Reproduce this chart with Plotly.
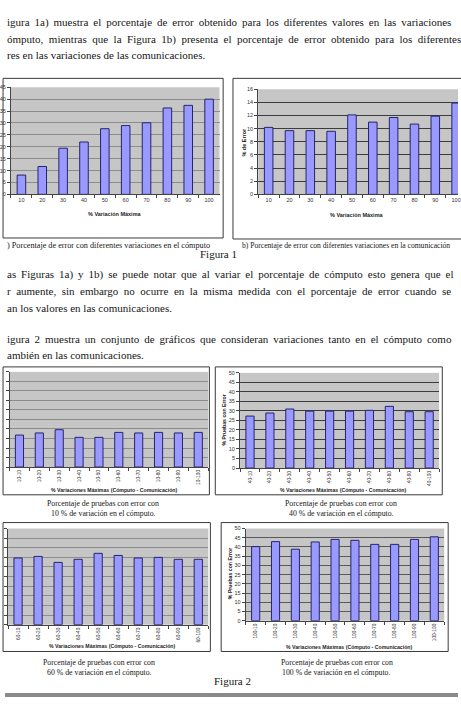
import plotly.graph_objects as go

W, H = 461, 710

# ---------------- data ----------------
variacion = ['10', '20', '30', '40', '50', '60', '70', '80', '90', '100']
error_computo = [8.1, 11.7, 19.4, 22.0, 27.6, 28.9, 30.1, 36.3, 37.4, 40.0]
error_comunicacion = [10.2, 9.7, 9.7, 9.6, 12.1, 11.0, 11.7, 10.7, 11.9, 13.9]

comunicacion = ['10', '20', '30', '40', '50', '60', '70', '80', '90', '100']
labels_10 = ['10-' + c for c in comunicacion]
labels_40 = ['40-' + c for c in comunicacion]
labels_60 = ['60-' + c for c in comunicacion]
labels_100 = ['100-' + c for c in comunicacion]
pruebas_10 = [16.8, 17.9, 19.6, 15.6, 15.6, 18.2, 17.9, 18.2, 17.9, 18.2]
pruebas_40 = [27.3, 28.9, 31.0, 29.9, 29.9, 29.9, 30.3, 32.4, 29.6, 29.6]
pruebas_60 = [34.7, 35.5, 32.4, 34.0, 37.1, 36.0, 34.7, 35.0, 34.0, 34.0]
pruebas_100 = [40.2, 42.9, 38.8, 42.7, 44.1, 43.6, 41.4, 41.4, 44.1, 45.5]


def px(x):
    return x / W


def py(y):
    return 1 - y / H


SANS = 'Liberation Sans, Arial, sans-serif'
SERIF = 'Liberation Serif, Times New Roman, serif'
BAR = '#9999FF'
BAR_LINE = '#25256b'

panels = [
    dict(x=variacion, y=error_computo, box=(6.1, 218.3, 85, 193), xr=[-0.5, 9.5], yr=[0, 45], dt=5,
         grid='#8c8c8c', angle=0, tfs=5.5, ylab=True),
    dict(x=variacion, y=error_comunicacion, box=(257.7, 461, 87, 193), xr=[-0.5, 9.09], yr=[0, 16], dt=2,
         grid='#3c3c3c', angle=0, tfs=5.5, ylab=True),
    dict(x=labels_10, y=pruebas_10, box=(4.6, 206.8, 372, 468), xr=[-0.5, 9.5], yr=[0, 50], dt=5,
         grid='#8c8c8c', angle=-90, tfs=4.8, ylab=False),
    dict(x=labels_40, y=pruebas_40, box=(239.2, 441.8, 373, 469), xr=[-0.5, 9.5], yr=[0, 50], dt=5,
         grid='#3c3c3c', angle=-90, tfs=4.8, ylab=True),
    dict(x=labels_60, y=pruebas_60, box=(3.1, 206.9, 530, 627), xr=[-0.5, 9.5], yr=[0, 50], dt=5,
         grid='#8c8c8c', angle=-90, tfs=4.8, ylab=False),
    dict(x=labels_100, y=pruebas_100, box=(245, 447, 530, 623), xr=[-0.5, 9.5], yr=[0, 50], dt=5,
         grid='#5a5a5a', angle=-90, tfs=4.8, ylab=True),
]

fig = go.Figure()
layout = {}
for i, p in enumerate(panels, start=1):
    sfx = '' if i == 1 else str(i)
    fig.add_trace(go.Bar(
        x=p['x'], y=p['y'], xaxis='x' + sfx, yaxis='y' + sfx, width=0.41,
        marker=dict(color=BAR, line=dict(color=BAR_LINE, width=1)), showlegend=False,
        hoverinfo='x+y'))
    x0, x1, y0, y1 = p['box']
    layout['xaxis' + sfx] = dict(
        domain=[px(x0), px(x1)], anchor='y' + sfx, type='category', range=p['xr'],
        showline=True, linecolor='#444', linewidth=1, ticks='outside', tickson='boundaries',
        ticklen=3, tickcolor='#444', tickangle=p['angle'], showgrid=False,
        tickfont=dict(family=SANS, size=p['tfs'], color='#333'), fixedrange=True)
    layout['yaxis' + sfx] = dict(
        domain=[py(y1), py(y0)], anchor='x' + sfx, range=p['yr'], dtick=p['dt'],
        showgrid=True, gridcolor=p['grid'], gridwidth=1, zeroline=False,
        showline=True, linecolor='#444', linewidth=1, ticks='outside', ticklen=3,
        showticklabels=p['ylab'],
        tickcolor='#444', tickfont=dict(family=SANS, size=5.5, color='#333'), fixedrange=True)

# frames around charts
frames = [(-2, 222, 76, 237), (232, 470, 76, 238), (-2, 208, 367, 496),
          (214, 445, 367, 496), (-2, 209, 524, 654), (220, 451, 524, 654)]
shapes = []
for (a, b, c, d) in frames:
    shapes.append(dict(type='rect', xref='paper', yref='paper', x0=px(a), x1=px(b),
                       y0=py(d), y1=py(c), line=dict(color='#3a3a3a', width=1),
                       fillcolor='rgba(0,0,0,0)', layer='below'))
shapes.append(dict(type='rect', xref='paper', yref='paper', x0=0, x1=1, y0=py(700), y1=py(696),
                   line=dict(width=0), fillcolor='#8a8a8a'))

ann = []


def text(x, y, s, size, family=SERIF, xanchor='left', color='#161616', angle=0):
    ann.append(dict(x=px(x), y=py(y), xref='paper', yref='paper', text=s, showarrow=False,
                    xanchor=xanchor, yanchor='middle', textangle=angle,
                    font=dict(family=family, size=size, color=color)))


def justify(s, extra):
    # widen inter-word gaps (the original paragraph is justified)
    return s.replace(' ', ' ' + extra) if extra else s


THIN = '\u2009'
FOUR = '\u2005'
BODY = 11
body_lines = [
    (20, 'igura 1a) muestra el porcentaje de error obtenido para los diferentes valores en las variaciones', THIN),
    (36.5, 'ómputo, mientras que la Figura 1b) presenta el porcentaje de error obtenido para los diferentes', FOUR),
    (52.5, 'res en las variaciones de las comunicaciones.', ''),
    (273.5, 'as Figuras 1a) y 1b) se puede notar que al variar el porcentaje de cómputo esto genera que el', THIN),
    (290.5, 'r aumente, sin embargo no ocurre en la misma medida con el porcentaje de error cuando se', FOUR),
    (307.5, 'an los valores en las comunicaciones.', ''),
    (339, 'igura 2 muestra un conjunto de gráficos que consideran variaciones tanto en el cómputo como', THIN),
    (355, 'ambién en las comunicaciones.', ''),
]
for y, s, ex in body_lines:
    text(0, y, justify(s, ex), BODY)

text(0, 245, ') Porcentaje de error con diferentes variaciones en el cómputo', 8.2)
text(239, 245, 'b) Porcentaje de error con diferentes variaciones en la comunicación', 7.6)
text(217.5, 253.5, 'Figura 1', 11, xanchor='center')

cap1 = 'Porcentaje de pruebas con error con'
text(100, 504.5, cap1, 7.8, xanchor='center')
text(100, 514.5, '10 % de variación en el cómputo.', 7.8, xanchor='center')
text(342, 504.5, cap1, 7.8, xanchor='center')
text(342, 514.5, '40 % de variación en el cómputo.', 7.8, xanchor='center')
text(96, 665, cap1, 7.8, xanchor='center')
text(96, 675, '60 % de variación en el cómputo.', 7.8, xanchor='center')
text(337.5, 665, cap1, 7.8, xanchor='center')
text(337.5, 675, '100 % de variación en el cómputo.', 7.8, xanchor='center')
text(232, 684, 'Figura 2', 11, xanchor='center')

# axis titles
AX = '#222'
text(112, 212.7, '<b>% Variación Máxima</b>', 5.5, SANS, 'center', AX)
text(358, 213.5, '<b>% Variación Máxima</b>', 5.5, SANS, 'center', AX)
text(243, 140, '<b>% de Error</b>', 5.5, SANS, 'center', AX, -90)
t2 = '<b>% Variaciones Máximas (Cómputo - Comunicación)</b>'
text(111, 490.7, t2, 5.2, SANS, 'center', AX)
text(344, 490.7, t2, 5.2, SANS, 'center', AX)
text(109, 648.7, t2, 5.2, SANS, 'center', AX)
text(351, 649, t2, 5.2, SANS, 'center', AX)
text(223, 421, '<b>% Pruebas con Error</b>', 5.2, SANS, 'center', AX, -90)
text(229, 576, '<b>% Pruebas con Error</b>', 5.2, SANS, 'center', AX, -90)

layout.update(dict(
    width=W, height=H, margin=dict(l=0, r=0, t=0, b=0),
    paper_bgcolor='white', plot_bgcolor='#C6C6C6',
    shapes=shapes, annotations=ann, bargap=0.5, showlegend=False,
))
fig.update_layout(**layout)
fig.write_html('out.html')
